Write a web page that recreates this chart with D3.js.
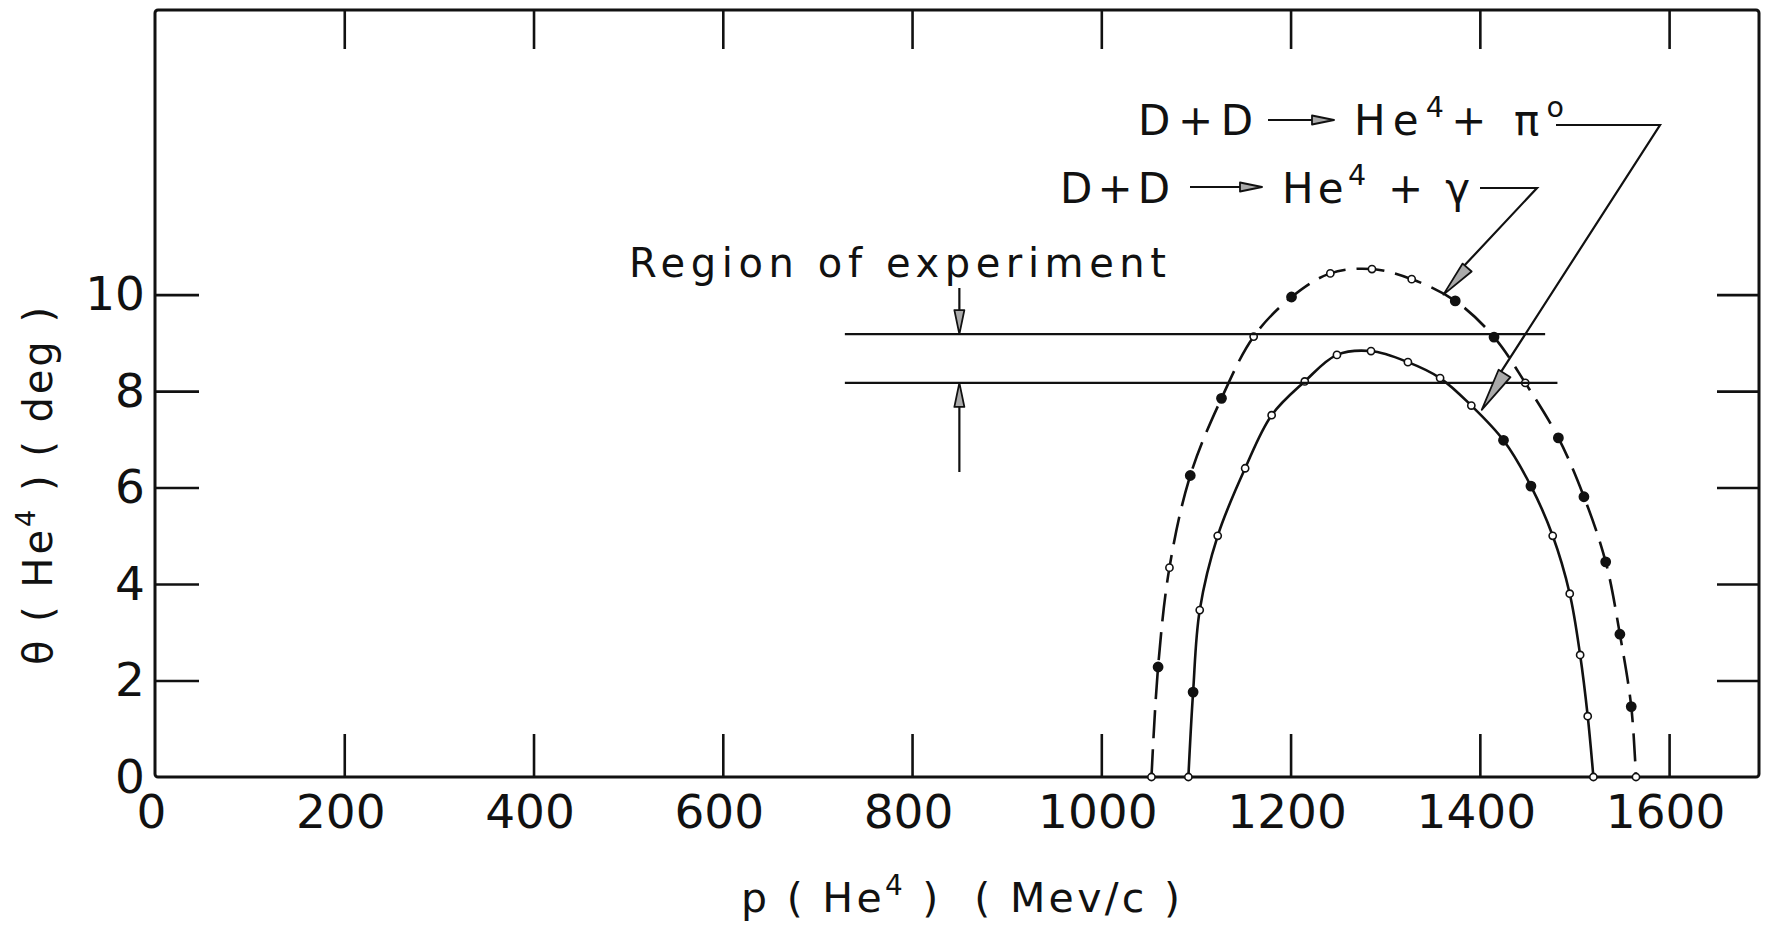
<!DOCTYPE html>
<html>
<head>
<meta charset="utf-8">
<script src="https://cdn.jsdelivr.net/npm/d3@7"></script>
<style>
  html, body { margin: 0; padding: 0; background: #fff; }
  svg { display: block; }
  text { font-family: "DejaVu Sans", "Liberation Sans", sans-serif; fill: #111; white-space: pre; }
</style>
</head>
<body>
<script>
// D + D -> He4 + pi0  (solid curve)
const piP      = [1092, 1097, 1104, 1123, 1152, 1180, 1215, 1249, 1285, 1324, 1358, 1391, 1425, 1454, 1477, 1495, 1506, 1514, 1520];
const piTheta  = [0, 1.76, 3.46, 5.0, 6.4, 7.5, 8.2, 8.75, 8.83, 8.6, 8.27, 7.7, 6.98, 6.03, 5.0, 3.8, 2.53, 1.26, 0];
const piFilled = [0, 1, 0, 0, 0, 0, 0, 0, 0, 0, 0, 0, 1, 1, 0, 0, 0, 0, 0];

// D + D -> He4 + gamma  (dashed curve)
const gammaP      = [1053, 1060, 1072, 1094, 1127, 1161, 1201, 1242, 1286, 1328, 1374, 1415, 1448, 1483, 1510, 1533, 1548, 1560, 1565];
const gammaTheta  = [0, 2.28, 4.34, 6.25, 7.85, 9.13, 9.95, 10.44, 10.53, 10.32, 9.87, 9.12, 8.17, 7.03, 5.81, 4.46, 2.96, 1.46, 0];
const gammaFilled = [0, 1, 0, 1, 1, 0, 1, 0, 0, 0, 1, 1, 0, 1, 1, 1, 1, 1, 0];

// axes
const xTickLabels = [0, 200, 400, 600, 800, 1000, 1200, 1400, 1600];
const yTickLabels = [0, 2, 4, 6, 8, 10];

// region of experiment (theta bounds, p start / ends)
const regionTheta = [9.18, 8.17];
const regionStartP = 729;
const regionEndP = [1469, 1482];
const regionArrowP = 850;

const width = 1765, height = 925;
const x = d3.scaleLinear().domain([0, 1695]).range([155, 1759]);
const y = d3.scaleLinear().domain([0, 15.9]).range([777, 10]);

const svg = d3.select("body").append("svg")
    .attr("width", width)
    .attr("height", height);

svg.append("rect").attr("width", width).attr("height", height).attr("fill", "#fff");

// frame
svg.append("rect")
    .attr("x", x(0)).attr("y", y(15.9))
    .attr("width", x(1695) - x(0)).attr("height", y(0) - y(15.9))
    .attr("rx", 3)
    .attr("fill", "none").attr("stroke", "#111").attr("stroke-width", 3);

function styleAxis(g) {
    g.select(".domain").remove();
    g.selectAll(".tick line").attr("stroke", "#111").attr("stroke-width", 2.6);
    g.selectAll(".tick text")
        .attr("fill", "#111")
        .style("font-family", "'DejaVu Sans', sans-serif")
        .style("font-size", "47px");
}

svg.append("g")
    .attr("transform", `translate(0,${y(0)})`)
    .call(d3.axisBottom(x).tickValues(xTickLabels).tickSizeInner(-43).tickSizeOuter(0).tickPadding(18).tickFormat(d3.format("d")))
    .call(styleAxis)
    .call(g => g.selectAll(".tick text").attr("dx", "-4"))
    .call(g => g.selectAll(".tick line").filter(d => d === 0).remove());

svg.append("g")
    .attr("transform", `translate(0,${y(15.9)})`)
    .call(d3.axisTop(x).tickValues(xTickLabels.slice(1)).tickSizeInner(-39).tickSizeOuter(0).tickFormat(""))
    .call(styleAxis);

svg.append("g")
    .attr("transform", `translate(${x(0)},0)`)
    .call(d3.axisLeft(y).tickValues(yTickLabels).tickSizeInner(-44).tickSizeOuter(0).tickPadding(10))
    .call(styleAxis)
    .call(g => g.selectAll(".tick line").filter(d => d === 0).remove());

svg.append("g")
    .attr("transform", `translate(${x(1695)},0)`)
    .call(d3.axisRight(y).tickValues(yTickLabels.slice(1)).tickSizeInner(-42).tickSizeOuter(0).tickFormat(""))
    .call(styleAxis);

// text with raised superscripts: parts = [[string, isSup], ...]
function richText(parts, fs, len) {
    const t = svg.append("text")
        .style("font-size", fs + "px")
        .attr("textLength", len).attr("lengthAdjust", "spacing");
    const rise = fs * 0.42;
    let up = false;
    parts.forEach(([s, sup]) => {
        const ts = t.append("tspan").text(s);
        if (sup) {
            ts.style("font-size", (fs * 0.68) + "px").attr("dy", -rise);
            up = true;
        } else if (up) {
            ts.attr("dy", rise);
            up = false;
        }
    });
    return t;
}

// axis titles
richText([["p ( He"], ["4", true], [" )  ( Mev/c )"]], 41, 439)
    .attr("x", 741).attr("y", 912);

richText([["\u03b8 ( He"], ["4", true], [" ) ( deg )"]], 40, 358)
    .attr("transform", "translate(52,486) rotate(-90)")
    .attr("text-anchor", "middle");

// curves
const line = d3.line()
    .x(d => x(d[0]))
    .y(d => y(d[1]))
    .curve(d3.curveCatmullRom.alpha(0.5));

const series = [
    { p: gammaP, t: gammaTheta, f: gammaFilled, dash: "28,11" },
    { p: piP, t: piTheta, f: piFilled, dash: null }
];

series.forEach(s => {
    const pts = s.p.map((p, i) => [p, s.t[i], s.f[i]]);
    svg.append("path")
        .datum(pts)
        .attr("d", line)
        .attr("fill", "none")
        .attr("stroke", "#111")
        .attr("stroke-width", 2.6)
        .attr("stroke-dasharray", s.dash);

    svg.append("g").selectAll("circle")
        .data(pts)
        .join("circle")
        .attr("cx", d => x(d[0]))
        .attr("cy", d => y(d[1]))
        .attr("r", d => d[2] ? 4.6 : 3.6)
        .attr("fill", d => d[2] ? "#111" : "#fff")
        .attr("stroke", "#111")
        .attr("stroke-width", 1.6);
});

// arrowhead helper: long narrow outlined head, tip at (tx,ty), pointing away from (fx,fy)
function arrowHead(tx, ty, fx, fy, len, hw) {
    const a = Math.atan2(ty - fy, tx - fx);
    const bx = tx - len * Math.cos(a), by = ty - len * Math.sin(a);
    const nx = -Math.sin(a) * hw, ny = Math.cos(a) * hw;
    svg.append("path")
        .attr("d", `M${tx},${ty}L${bx + nx},${by + ny}L${bx - nx},${by - ny}Z`)
        .attr("fill", "#aaa")
        .attr("stroke", "#111")
        .attr("stroke-width", 1.8)
        .attr("stroke-linejoin", "round");
}

function seg(pts, w) {
    svg.append("path")
        .attr("d", d3.line()(pts))
        .attr("fill", "none")
        .attr("stroke", "#111")
        .attr("stroke-width", w || 2);
}

// region of experiment
regionTheta.forEach((t, i) => {
    seg([[x(regionStartP), y(t)], [x(regionEndP[i]), y(t)]], 2.4);
});
const ax = x(regionArrowP);
seg([[ax, 288], [ax, y(regionTheta[0]) - 20]], 2.2);
arrowHead(ax, y(regionTheta[0]), ax, 288, 24, 5);
seg([[ax, 472], [ax, y(regionTheta[1]) + 20]], 2.2);
arrowHead(ax, y(regionTheta[1]), ax, 472, 24, 5);

svg.append("text")
    .attr("x", 629).attr("y", 277)
    .attr("textLength", 537).attr("lengthAdjust", "spacing")
    .style("font-size", "40px")
    .text("Region of experiment");

// reaction labels
function reaction(x0, w0, x1, x2, ay, x3, w3, base, rest) {
    svg.append("text").attr("x", x0).attr("y", base)
        .attr("textLength", w0).attr("lengthAdjust", "spacing")
        .style("font-size", "42px").text("D+D");
    seg([[x1, ay], [x2 - 18, ay]], 2);
    arrowHead(x2, ay, x1, ay, 22, 4.5);
    richText(rest, 42, w3).attr("x", x3).attr("y", base);
}

reaction(1138, 115, 1268, 1334, 120, 1354, 210, 135, [["He"], ["4", true], ["+ \u03c0"], ["o", true]]);
reaction(1060, 110, 1190, 1262, 187, 1282, 188, 203, [["He"], ["4", true], [" + \u03b3"]]);

// leaders
const piTip = [x(1402), y(7.61)];
seg([[1556, 125], [1660, 125], [piTip[0] + 18, piTip[1] - 36]], 2.2);
arrowHead(piTip[0], piTip[1], 1660, 125, 43, 7);

const gammaTip = [x(1361.5), y(10.0)];
seg([[1480, 188], [1537, 188], [gammaTip[0] + 20, gammaTip[1] - 28]], 2.2);
arrowHead(gammaTip[0], gammaTip[1], 1537, 188, 36, 6);
</script>
</body>
</html>
